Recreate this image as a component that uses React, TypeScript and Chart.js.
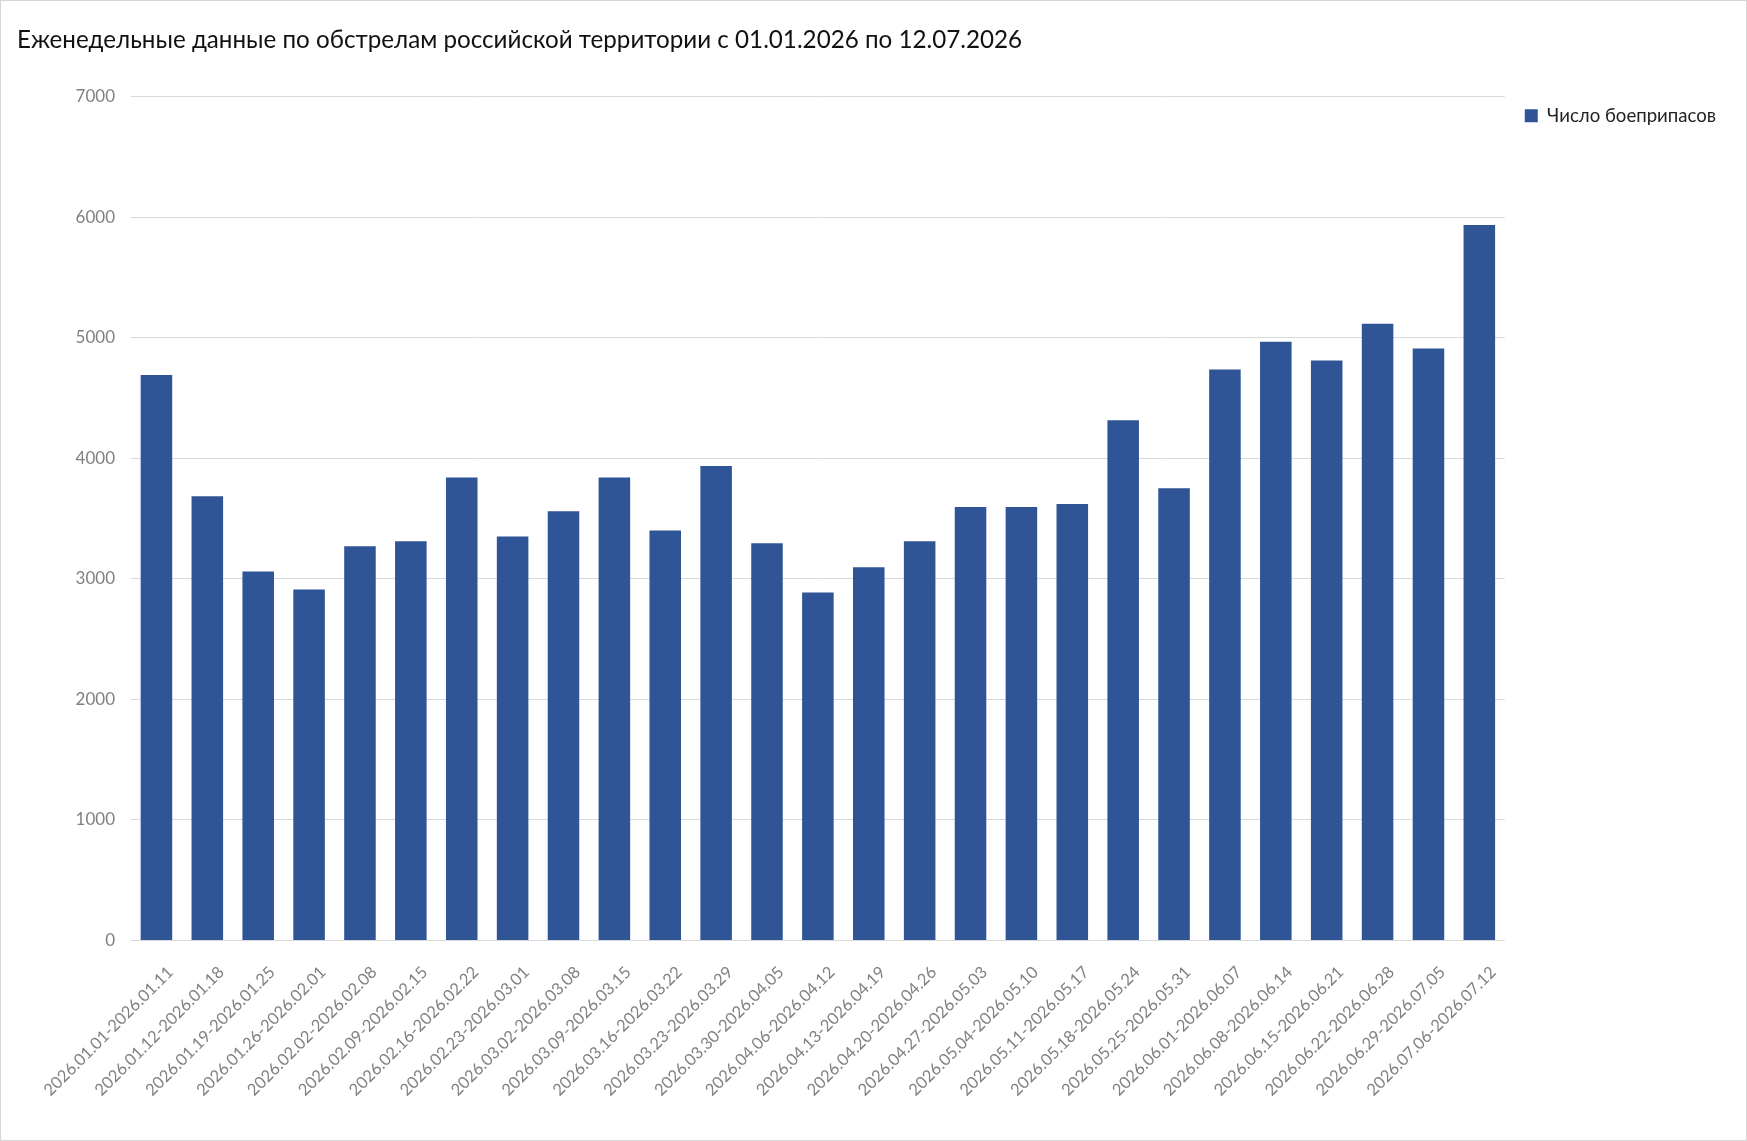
import { useEffect, useRef } from "react";
import Chart from "chart.js/auto";

const weeks = [
  "2026.01.01-2026.01.11",
  "2026.01.12-2026.01.18",
  "2026.01.19-2026.01.25",
  "2026.01.26-2026.02.01",
  "2026.02.02-2026.02.08",
  "2026.02.09-2026.02.15",
  "2026.02.16-2026.02.22",
  "2026.02.23-2026.03.01",
  "2026.03.02-2026.03.08",
  "2026.03.09-2026.03.15",
  "2026.03.16-2026.03.22",
  "2026.03.23-2026.03.29",
  "2026.03.30-2026.04.05",
  "2026.04.06-2026.04.12",
  "2026.04.13-2026.04.19",
  "2026.04.20-2026.04.26",
  "2026.04.27-2026.05.03",
  "2026.05.04-2026.05.10",
  "2026.05.11-2026.05.17",
  "2026.05.18-2026.05.24",
  "2026.05.25-2026.05.31",
  "2026.06.01-2026.06.07",
  "2026.06.08-2026.06.14",
  "2026.06.15-2026.06.21",
  "2026.06.22-2026.06.28",
  "2026.06.29-2026.07.05",
  "2026.07.06-2026.07.12",
];

const shells = [
  4690, 3685, 3060, 2910, 3270, 3310, 3840, 3350, 3560, 3840, 3400, 3935, 3295, 2885,
  3095, 3310, 3595, 3595, 3620, 4315, 3750, 4735, 4965, 4810, 5115, 4910, 5935,
];

const seriesName = "Число боеприпасов";
const title = "Еженедельные данные по обстрелам российской территории с 01.01.2026 по 12.07.2026";
const yMax = 7000;
const yStep = 1000;

const App = (): JSX.Element => {
  const ref = useRef<HTMLCanvasElement | null>(null);

  useEffect(() => {
    document.body.style.margin = "0";
    if (!ref.current) return;
    const chart = new Chart(ref.current, {
      type: "bar",
      data: {
        labels: weeks,
        datasets: [
          {
            label: seriesName,
            data: shells,
            backgroundColor: "#2f5597",
            borderWidth: 0,
            barPercentage: 0.62,
            categoryPercentage: 1,
          },
        ],
      },
      options: {
        animation: false,
        responsive: false,
        devicePixelRatio: 1,
        layout: { padding: { left: 16, right: 20, top: 0, bottom: 26 } },
        plugins: {
          title: {
            display: true,
            text: title,
            align: "start",
            color: "#111",
            font: { family: "Lato", size: 24.2, weight: "normal", lineHeight: 1.2 },
            padding: { top: 25, bottom: 41.5 },
          },
          legend: {
            position: "right",
            align: "start",
            fullSize: false,
            labels: {
              boxWidth: 13,
              boxHeight: 13,
              padding: 10,
              color: "#222",
              font: { family: "Lato", size: 18.6 },
            },
          },
          tooltip: { enabled: false },
        },
        scales: {
          x: {
            grid: { display: false },
            border: { display: false },
            ticks: {
              color: "#808080",
              font: { family: "Lato", size: 16.5 },
              minRotation: 45,
              maxRotation: 45,
              autoSkip: false,
              padding: 14,
              labelOffset: 14,
            },
          },
          y: {
            min: 0,
            max: yMax,
            grid: { color: "#d9d9d9", drawTicks: false },
            border: { display: false },
            ticks: {
              stepSize: yStep,
              padding: 16,
              color: "#808080",
              font: { family: "Lato", size: 17 },
              callback: (v: any) => String(v),
            },
            afterFit: (s: any) => {
              s.width = 114;
            },
          },
          pad: {
            position: "right",
            grid: { display: false },
            border: { display: false },
            ticks: { display: false },
            afterFit: (s: any) => {
              s.width = 10;
            },
          },
        },
      },
    });
    return () => {
      chart.destroy();
    };
  }, []);

  return (
    <div
      style={{
        position: "relative",
        width: 1747,
        height: 1141,
        boxSizing: "border-box",
        border: "1px solid #d6d6d6",
        background: "#fff",
      }}
    >
      <canvas ref={ref} width={1745} height={1139} style={{ display: "block" }} />
    </div>
  );
};

export default App;
